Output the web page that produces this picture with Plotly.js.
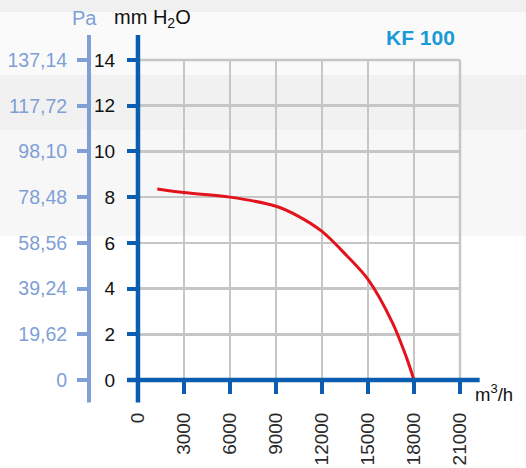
<!DOCTYPE html>
<html>
<head>
<meta charset="utf-8">
<script src="https://cdn.plot.ly/plotly-3.0.1.min.js"></script>
<style>
  html, body { margin: 0; padding: 0; background: #fff; }
  #chart { width: 526px; height: 468px; }
</style>
</head>
<body>
<div id="chart"></div>
<script>
// fan curve KF 100
var flow = [1260, 3000, 6000, 9000, 10500, 12000, 13600, 15000, 16600, 17500, 18000];   // m3/h
var pressure = [8.36, 8.2, 8.0, 7.6, 7.15, 6.5, 5.45, 4.4, 2.5, 1.0, 0];                // mm H2O

var flowTicks = [0, 3000, 6000, 9000, 12000, 15000, 18000, 21000];
var mmTicks = [0, 2, 4, 6, 8, 10, 12, 14];
var paLabels = ['0', '19,62', '39,24', '58,56', '78,48', '98,10', '117,72', '137,14'];

var darkBlue = '#0a5db0';
var lightBlue = '#7f9fd6';
var gridCol = '#c6c6c6';

var data = [
  {
    type: 'scatter',
    mode: 'lines',
    x: flow,
    y: pressure,
    line: { color: '#e3131b', width: 3, shape: 'spline', smoothing: 0.9 },
    hoverinfo: 'skip'
  },
  // dummy trace so the Pa axis gets drawn
  {
    type: 'scatter',
    mode: 'lines',
    x: [0, 0],
    y: [0, 14],
    yaxis: 'y2',
    line: { width: 0 },
    hoverinfo: 'skip'
  }
];

var fnt = 'Liberation Sans, Arial, sans-serif';

// background bands (faint grey sheen behind the chart)
var bands = [
  [1.20, 1.15, '#f0f0f0'],
  [1.15, 0.953, '#fafafa'],
  [0.953, 0.78, '#f1f1f1'],
  [0.78, 0.45, '#f7f7f7']
];
var shapes = bands.map(function (b) {
  return { type: 'rect', xref: 'paper', yref: 'paper', x0: -0.3, x1: 1.3, y0: b[1], y1: b[0],
           fillcolor: b[2], line: { width: 0 }, layer: 'below' };
});
// grid lines on the top and right edges (plotly skips them)
shapes.push({ type: 'line', xref: 'paper', yref: 'paper', x0: 1, x1: 1, y0: 0, y1: 1,
              line: { color: gridCol, width: 2.5 }, layer: 'below' });
shapes.push({ type: 'line', xref: 'paper', yref: 'paper', x0: 0.132, x1: 1, y0: 1, y1: 1,
              line: { color: gridCol, width: 2.5 }, layer: 'below' });
// axis lines, longer than the plot area like the original
shapes.push({ type: 'line', xref: 'paper', yref: 'paper', x0: 0, x1: 0, y0: -0.07, y1: 1.078,
              line: { color: lightBlue, width: 4 } });
shapes.push({ type: 'line', xref: 'paper', yref: 'paper', x0: 0.132, x1: 0.132, y0: -0.07, y1: 1.078,
              line: { color: darkBlue, width: 4.5 } });
shapes.push({ type: 'line', xref: 'paper', yref: 'paper', x0: 0.103, x1: 1.053, y0: 0, y1: 0,
              line: { color: darkBlue, width: 4.5 } });

var layout = {
  width: 526,
  height: 468,
  margin: { l: 89, r: 66, t: 60, b: 88 },
  paper_bgcolor: '#ffffff',
  plot_bgcolor: 'rgba(0,0,0,0)',
  showlegend: false,
  font: { family: fnt },
  xaxis: {
    domain: [0.132, 1],
    range: [0, 21000],
    tickvals: flowTicks,
    ticktext: flowTicks.map(String),
    tickangle: -90,
    ticks: 'outside',
    ticklen: 13,
    tickwidth: 4,
    tickcolor: darkBlue,
    ticklabelstandoff: 11,
    tickfont: { size: 19, color: '#2a2a2a' },
    showgrid: true,
    gridcolor: gridCol,
    gridwidth: 2.5,
    zeroline: false,
    showline: false,
    fixedrange: true
  },
  yaxis: {
    range: [0, 14],
    tickvals: mmTicks,
    ticktext: mmTicks.map(String),
    ticks: 'outside',
    ticklen: 10,
    tickwidth: 4,
    tickcolor: darkBlue,
    ticklabelstandoff: 8,
    tickfont: { size: 19, color: '#111' },
    showgrid: true,
    gridcolor: gridCol,
    gridwidth: 2.5,
    zeroline: false,
    showline: false,
    fixedrange: true
  },
  yaxis2: {
    overlaying: 'y',
    anchor: 'free',
    position: 0,
    side: 'left',
    range: [0, 14],
    tickvals: mmTicks,
    ticktext: paLabels,
    ticks: 'outside',
    ticklen: 12,
    tickwidth: 4,
    tickcolor: lightBlue,
    ticklabelstandoff: 6,
    tickfont: { size: 19.5, color: lightBlue },
    showgrid: false,
    zeroline: false,
    showline: false,
    fixedrange: true
  },
  shapes: shapes,
  annotations: [
    { xref: 'paper', yref: 'paper', x: 0.992, y: 1.069, xanchor: 'right', yanchor: 'middle',
      text: '<b>KF 100</b>', showarrow: false, font: { size: 21, color: '#1a9ad6' } },
    { xref: 'paper', yref: 'paper', x: -0.011, y: 1.131, xanchor: 'center', yanchor: 'middle',
      text: 'Pa', showarrow: false, font: { size: 20, color: lightBlue } },
    { xref: 'paper', yref: 'paper', x: 0.062, y: 1.131, xanchor: 'left', yanchor: 'middle',
      text: 'mm H<sub>2</sub>O', showarrow: false, font: { size: 20, color: '#111' } },
    { xref: 'paper', yref: 'paper', x: 1.036, y: -0.04, xanchor: 'left', yanchor: 'middle',
      text: 'm<sup>3</sup>/h', showarrow: false, font: { size: 18.5, color: '#111' } }
  ]
};

Plotly.newPlot('chart', data, layout, { displayModeBar: false, staticPlot: true });
</script>
</body>
</html>
